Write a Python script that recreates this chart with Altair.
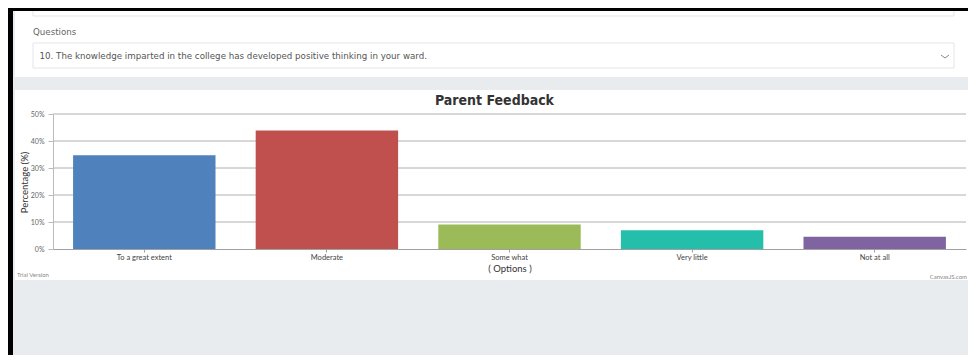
import altair as alt
import pandas as pd

# ---- data ----
categories = ["To a great extent", "Moderate", "Some what", "Very little", "Not at all"]
percentages = [34.7, 43.9, 9.1, 6.9, 4.5]
bar_colors = ["#4F81BC", "#C0504E", "#9BBB58", "#23BFAA", "#8064A1"]
y_ticks = [0, 10, 20, 30, 40, 50]
grid_levels = [10, 20, 30, 40, 50]

title_text = "Parent Feedback"
x_title = "( Options )"
y_title = "Percentage (%)"
question_label = "Questions"
question_text = "10. The knowledge imparted in the college has developed positive thinking in your ward."
trial_text = "Trial Version"
credit_text = "CanvasJS.com"

# ---- layout ----
W, H = 913, 135
PAGE_BG = "#e9ecef"
CHART_FONT = "Lato, Open Sans, sans-serif"
UI_FONT = "DejaVu Sans, sans-serif"

bars_df = pd.DataFrame({"Option": categories, "Percentage": percentages})
grid_df = pd.DataFrame({"Percentage": grid_levels})
one = pd.DataFrame({"k": [0]})

x_enc = alt.X(
    "Option:N",
    sort=categories,
    scale=alt.Scale(paddingInner=0.22, paddingOuter=0.11),
    axis=alt.Axis(
        title=x_title, titleFont=CHART_FONT, titleFontSize=9.5, titleFontWeight="normal",
        titleColor="#333333", titleBaseline="middle", titleY=19,
        labelAngle=0, labelFont=CHART_FONT, labelFontSize=7.5, labelColor="#444444",
        labelPadding=1, tickSize=3, tickColor="#a0a0a0", domainColor="#a0a0a0",
        grid=False, zindex=1,
    ),
)


def y_enc():
    return alt.Y(
        "Percentage:Q",
        scale=alt.Scale(domain=[0, 50], nice=False),
        axis=alt.Axis(
            title=y_title, titleFont=CHART_FONT, titleFontSize=9.5, titleFontWeight="normal",
            titleColor="#333333", titleX=-29, titleY=68, titleAlign="center",
            titleBaseline="middle", titleAngle=270,
            values=y_ticks, labelExpr="datum.value + '%'",
            labelFont=CHART_FONT, labelFontSize=7, labelColor="#666666", labelPadding=4,
            tickSize=5, tickColor="#bbbbbb", domainColor="#bbbbbb",
            grid=False, zindex=1,
        ),
    )


def box(x1, x2, y1, y2, fill, stroke=None):
    kw = dict(fill=fill)
    if stroke:
        kw.update(stroke=stroke, strokeWidth=1)
    return alt.Chart(one).mark_rect(**kw).encode(
        x=alt.value(x1), x2=alt.value(x2), y=alt.value(y1), y2=alt.value(y2)
    )


def label(txt, x, y, size, color, font=CHART_FONT, align="left", weight="normal"):
    return alt.Chart(one).mark_text(
        text=txt, align=align, baseline="middle", fontSize=size, font=font,
        color=color, fontWeight=weight,
    ).encode(x=alt.value(x), y=alt.value(y))


def seg(x1, y1, x2, y2, color):
    return alt.Chart(one).mark_rule(color=color, strokeWidth=1).encode(
        x=alt.value(x1), y=alt.value(y1), x2=alt.value(x2), y2=alt.value(y2)
    )


layers = [
    box(-40, 930, -103, 260, PAGE_BG),                    # page background
    box(-38, 930, -103, -37, "#ffffff"),                  # top card
    box(-20, 901, -112, -98, "#ffffff", "#e3e5e8"),       # input (cut off)
    box(-45, 930, -112, -103, "#000000"),                 # top black strip
    label(question_label, -20, -82, 8.7, "#666666", UI_FONT),
    box(-20, 901, -71, -46, "#ffffff", "#e3e5e8"),        # select box
    label(question_text, -13.5, -58.5, 8.7, "#555555", UI_FONT),
    seg(888, -59, 892, -56, "#888888"),
    seg(892, -56, 896, -59, "#888888"),
    box(-38, 930, -24, 166, "#ffffff"),                   # chart card
    alt.Chart(grid_df).mark_rule(color="#b0b0b0", strokeWidth=1).encode(
        y=y_enc(), x=alt.value(0), x2=alt.value(W)
    ),
    alt.Chart(bars_df).mark_bar().encode(
        x=x_enc,
        y=y_enc(),
        color=alt.Color("Option:N", sort=categories,
                        scale=alt.Scale(domain=categories, range=bar_colors), legend=None),
    ),
    label(title_text, W / 2 - 15, -13, 14, "#333333",
          "DejaVu Sans Condensed, Liberation Sans Narrow, sans-serif", "center", "bold"),
    label(trial_text, -36, 161, 6, "#888888"),
    label(credit_text, 914, 163, 6, "#888888", align="right"),
]

chart = alt.layer(*layers).properties(
    width=W,
    height=H,
    background="#000000",
    autosize=alt.AutoSizeParams(type="none"),
    padding={"left": 45, "top": 106, "right": 2, "bottom": 106},
).configure_view(stroke=None)

chart.save("out.html", embed_options={"renderer": "svg", "actions": False})
